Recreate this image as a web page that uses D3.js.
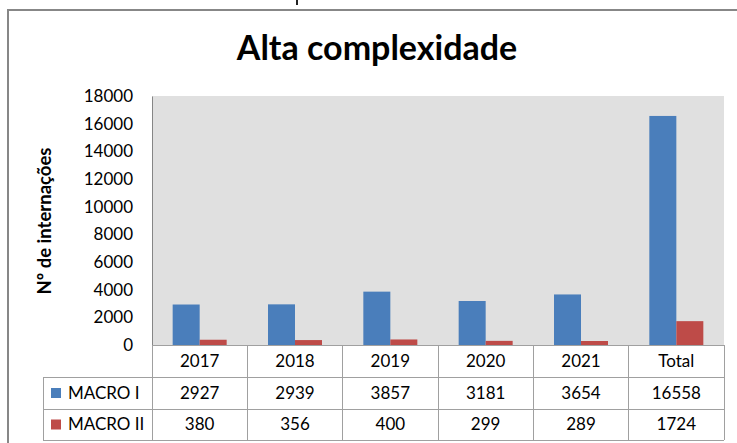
<!DOCTYPE html>
<html>
<head>
<meta charset="utf-8">
<script src="https://cdn.jsdelivr.net/npm/d3@7"></script>
<style>
  body { margin: 0; background: #fff; }
  svg { display: block; }
</style>
</head>
<body>
<svg id="chart" width="737" height="443"></svg>
<script>
// Hospitalisations (alta complexidade) per year and macro-region
const categories = ["2017", "2018", "2019", "2020", "2021", "Total"];
const seriesNames = ["MACRO I", "MACRO II"];
const macroI = [2927, 2939, 3857, 3181, 3654, 16558];
const macroII = [380, 356, 400, 299, 289, 1724];
const yTicks = [0, 2000, 4000, 6000, 8000, 10000, 12000, 14000, 16000, 18000];

const colors = { "MACRO I": "#4A7EBB", "MACRO II": "#BE4B48" };
const font = "Lato, 'Open Sans', sans-serif";

const svg = d3.select("#chart");
const W = 737, H = 443;
const plot = { left: 152, right: 724, top: 96, bottom: 345 };
const tableRows = [345, 377, 409, 440];
const legendLeft = 43;

// Outer chart frame (top and left edges visible)
svg.append("line").attr("x1", 7).attr("x2", W).attr("y1", 10).attr("y2", 10)
  .attr("stroke", "#878787").attr("stroke-width", 2);
svg.append("line").attr("x1", 8).attr("x2", 8).attr("y1", 9).attr("y2", H)
  .attr("stroke", "#878787").attr("stroke-width", 2);
svg.append("rect").attr("x", 296).attr("y", 0).attr("width", 2).attr("height", 5).attr("fill", "#222");

// Title
svg.append("text")
  .attr("x", 377).attr("y", 60)
  .attr("text-anchor", "middle")
  .attr("font-family", font).attr("font-weight", "bold").attr("font-size", 34)
  .attr("fill", "#000")
  .text("Alta complexidade");

// Scales
const x = d3.scaleBand().domain(categories).range([plot.left, plot.right]).padding(0);
const barW = 27;
const xi = d3.scaleBand().domain(seriesNames)
  .range([x.bandwidth() / 2 - barW, x.bandwidth() / 2 + barW]).padding(0);
const y = d3.scaleLinear().domain([0, 18000]).range([plot.bottom, plot.top]);

// Plot background
svg.append("rect")
  .attr("x", plot.left).attr("y", plot.top)
  .attr("width", plot.right - plot.left).attr("height", plot.bottom - plot.top)
  .attr("fill", "#E0E0E0");

// Bars
const rows = categories.map((c, i) => ({ cat: c, values: [
  { name: seriesNames[0], v: macroI[i] },
  { name: seriesNames[1], v: macroII[i] }
]}));

const groups = svg.append("g").selectAll("g").data(rows).join("g")
  .attr("transform", d => `translate(${x(d.cat)},0)`);
groups.selectAll("rect").data(d => d.values).join("rect")
  .attr("x", d => xi(d.name))
  .attr("width", xi.bandwidth())
  .attr("y", d => y(d.v))
  .attr("height", d => y(0) - y(d.v))
  .attr("fill", d => colors[d.name]);

// Y axis
const yAxis = svg.append("g")
  .attr("transform", `translate(${plot.left},0)`)
  .call(d3.axisLeft(y).tickValues(yTicks).tickSize(0).tickSizeOuter(0).tickPadding(19).tickFormat(d3.format("d")));
yAxis.select(".domain").attr("stroke", "#868686").attr("stroke-width", 1);
yAxis.selectAll("text")
  .attr("font-family", font).attr("font-size", 17).attr("fill", "#000");

// Y axis title
svg.append("text")
  .attr("transform", `translate(51,221) rotate(-90)`)
  .attr("text-anchor", "middle")
  .attr("font-family", font).attr("font-weight", "bold").attr("font-size", 18.5)
  .attr("fill", "#000")
  .text("Nº de internações");

// Data table below the plot
const gridColor = "#A0A0A0";
const table = svg.append("g").attr("shape-rendering", "crispEdges");
// horizontal lines
table.append("line").attr("x1", plot.left).attr("x2", plot.right)
  .attr("y1", tableRows[0]).attr("y2", tableRows[0]).attr("stroke", gridColor);
[1, 2, 3].forEach(r => {
  table.append("line").attr("x1", legendLeft).attr("x2", plot.right)
    .attr("y1", tableRows[r]).attr("y2", tableRows[r]).attr("stroke", gridColor);
});
// vertical lines
table.append("line").attr("x1", legendLeft).attr("x2", legendLeft)
  .attr("y1", tableRows[1]).attr("y2", tableRows[3]).attr("stroke", gridColor);
categories.concat(["__end"]).forEach((c, i) => {
  const xx = i < categories.length ? x(c) : plot.right;
  table.append("line").attr("x1", xx).attr("x2", xx)
    .attr("y1", tableRows[0]).attr("y2", tableRows[3]).attr("stroke", gridColor);
});

// header row (categories)
svg.append("g").selectAll("text").data(categories).join("text")
  .attr("x", d => x(d) + x.bandwidth() / 2)
  .attr("y", (tableRows[0] + tableRows[1]) / 2)
  .attr("dy", "0.35em")
  .attr("text-anchor", "middle")
  .attr("font-family", font).attr("font-size", 17).attr("fill", "#000")
  .text(d => d);

// value rows
[macroI, macroII].forEach((vals, r) => {
  const cy = (tableRows[r + 1] + tableRows[r + 2]) / 2;
  svg.append("g").selectAll("text").data(vals).join("text")
    .attr("x", (d, i) => x(categories[i]) + x.bandwidth() / 2)
    .attr("y", cy)
    .attr("dy", "0.35em")
    .attr("text-anchor", "middle")
    .attr("font-family", font).attr("font-size", 17).attr("fill", "#000")
    .text(d => d);
  // legend key
  svg.append("rect")
    .attr("x", 51).attr("y", cy - 5).attr("width", 10).attr("height", 10)
    .attr("fill", colors[seriesNames[r]]);
  svg.append("text")
    .attr("x", 68).attr("y", cy).attr("dy", "0.35em")
    .attr("font-family", font).attr("font-size", 17).attr("fill", "#000")
    .text(seriesNames[r]);
});
</script>
</body>
</html>
